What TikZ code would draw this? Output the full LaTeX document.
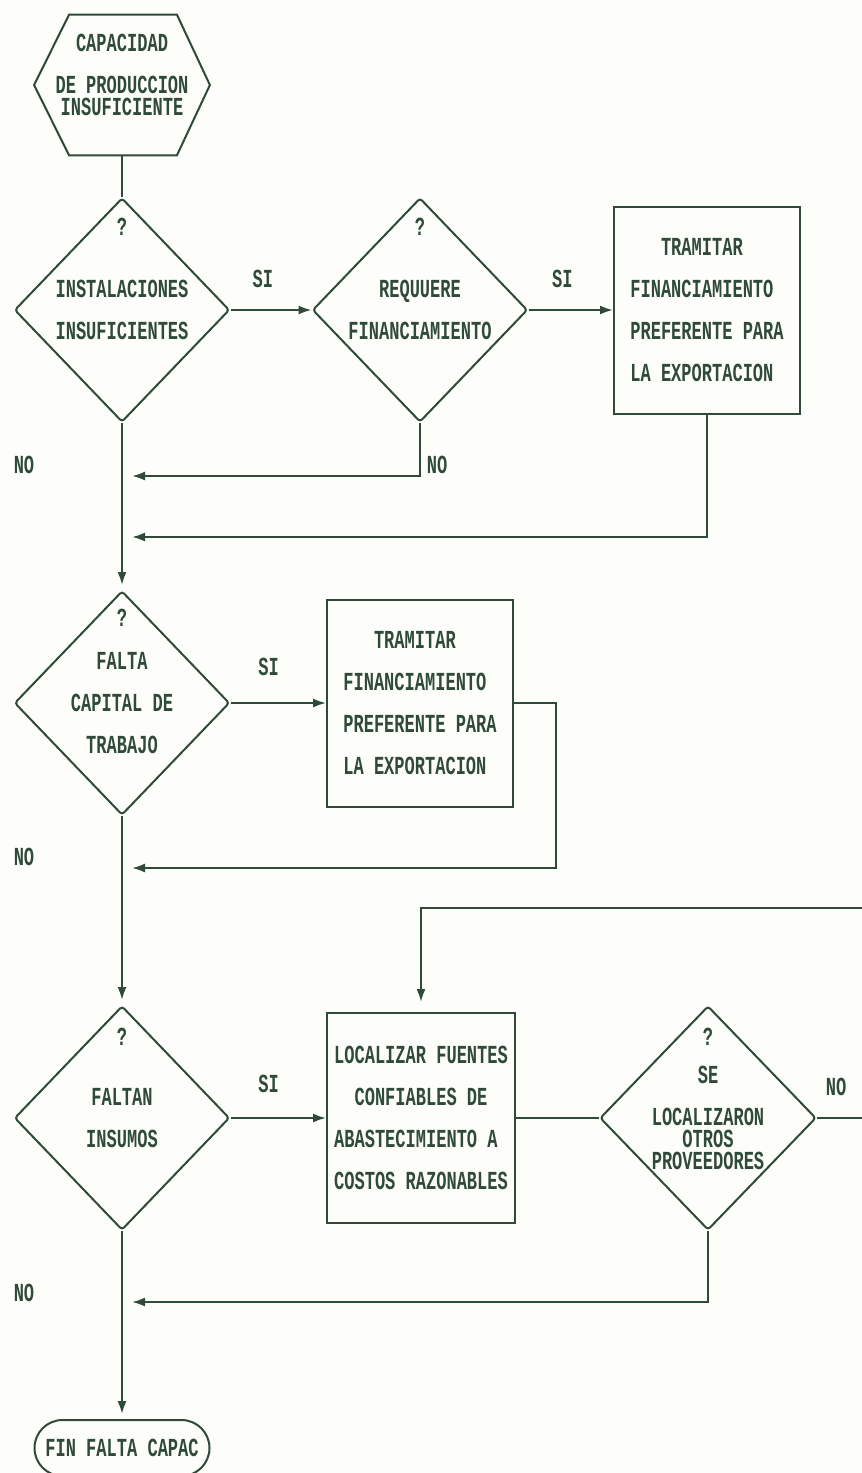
\documentclass[tikz,border=0pt]{standalone}
\usepackage{fontspec}
\usetikzlibrary{positioning}
\usetikzlibrary{shapes.geometric}
\usetikzlibrary{shapes.misc}
\usetikzlibrary{arrows.meta}
\newfontfamily\flowfont[FakeStretch=0.655]{Liberation Mono}
\definecolor{INK}{HTML}{2F4A38}
\definecolor{PAPER}{HTML}{FDFDFA}
\tikzset{
	every node/.style = {font=\flowfont\bfseries\fontsize{13}{21}\selectfont, text=INK},
	line/.style = {draw=INK, line width=1pt},
	flow/.style = {line, -{Latex[length=6.5pt, width=4.5pt]}},
	decision/.style = {diamond, line, inner sep=0pt, align=center, minimum width=107.5pt, minimum height=112pt, rounded corners=1.5pt},
	task/.style = {rectangle, line, inner sep=0pt, align=left, minimum width=93pt, minimum height=103.5pt}
}

\begin{document}
\begin{tikzpicture}[x=0.5pt, y=-0.5pt]
		\fill[PAPER] (0,0) rectangle (862,1473);
		\useasboundingbox (0,0) rectangle (862,1473);
		% start
		\node[minimum width=87.5pt, minimum height=70pt, inner sep=0pt] (start) at (122,85) {};
		\draw[line] (start.west) -- ([xshift=17.5pt]start.north west) -- ([xshift=-16.5pt]start.north east)
		      -- (start.east) -- ([xshift=-16.5pt]start.south east) -- ([xshift=17.5pt]start.south west) -- cycle;
		\node[align=center] (starttxt) at ([yshift=5pt]start.center) {CAPACIDAD\\DE PRODUCCION\\[-10pt]INSUFICIENTE};
		% decisions and tasks
		\node[decision] (inst) at (122,310) {INSTALACIONES\\INSUFICIENTES};
		\node[decision] (finq) at (420,310) {REQUUERE\\FINANCIAMIENTO};
		\node[task] (tram1) at (707,310) {\phantom{TRA}TRAMITAR\\FINANCIAMIENTO\\PREFERENTE PARA\\LA EXPORTACION};
		\node[decision] (capital) at (122,703) {FALTA\\CAPITAL DE\\TRABAJO};
		\node[task] (tram2) at (420,703) {\phantom{TRA}TRAMITAR\\FINANCIAMIENTO\\PREFERENTE PARA\\LA EXPORTACION};
		\node[decision] (insumos) at (122,1118) {FALTAN\\INSUMOS};
		\node[task, minimum width=94pt, minimum height=105pt] (fuentes) at (421,1118) {LOCALIZAR FUENTES\\\phantom{CO}CONFIABLES DE\\ABASTECIMIENTO A\\COSTOS RAZONABLES};
		\node[decision] (prov) at (708,1118) {SE\\LOCALIZARON\\[-10pt]OTROS\\[-10pt]PROVEEDORES};
		\node[rounded rectangle, line, minimum width=87.5pt, minimum height=28pt, inner sep=0pt] (fin) at (122,1448) {FIN FALTA CAPAC};
		% question marks
		\node (q1) at ([yshift=-15pt]inst.north) {?};
		\node (q2) at ([yshift=-15pt]finq.north) {?};
		\node (q3) at ([yshift=-14pt]capital.north) {?};
		\node (q4) at ([yshift=-16pt]insumos.north) {?};
		\node (q5) at ([yshift=-16pt]prov.north) {?};
		% points on the main line
		\coordinate (back1) at (122,476);
		\coordinate (back2) at (122,537);
		\coordinate (back3) at (122,868);
		\coordinate (back4) at (122,1302);
		\coordinate (loop) at (890,908);
		% connectors
		\draw[line] (start.south) -- (inst.north);
		\draw[flow] (inst.east) -- node[pos=.4, above=7.5pt] (si1) {SI} (finq.west);
		\draw[flow] (finq.east) -- node[pos=.4, above=7.5pt] (si2) {SI} (tram1.west);
		\draw[flow, shorten >=5pt] (finq.south) |- (back1);
		\draw[flow, shorten >=5pt] (tram1.south) |- (back2);
		\draw[flow, shorten >=2.5pt] (inst.south) -- (capital.north);
		\draw[flow] (capital.east) -- node[pos=.4, above=10pt] (si3) {SI} (tram2.west);
		\draw[flow, shorten >=5pt] (tram2.east) -- ++(21pt,0) |- (back3);
		\draw[flow, shorten >=2.5pt] (capital.south) -- (insumos.north);
		\draw[flow] (insumos.east) -- node[pos=.4, above=9pt] (si4) {SI} (fuentes.west);
		\draw[line] (fuentes.east) -- (prov.west);
		\draw[flow, shorten >=5pt] (prov.east) -| (loop) -| (fuentes.north);
		\draw[flow, shorten >=5pt] (prov.south) |- (back4);
		\draw[flow, shorten >=2.5pt] (insumos.south) -- (fin.north);
		% labels
		\node (no1) at (24,465) {NO};
		\node (no2) at (437,465) {NO};
		\node (no3) at (24,857) {NO};
		\node (no4) at (836,1087) {NO};
		\node (no5) at (24,1293) {NO};
	\end{tikzpicture}
\end{document}
